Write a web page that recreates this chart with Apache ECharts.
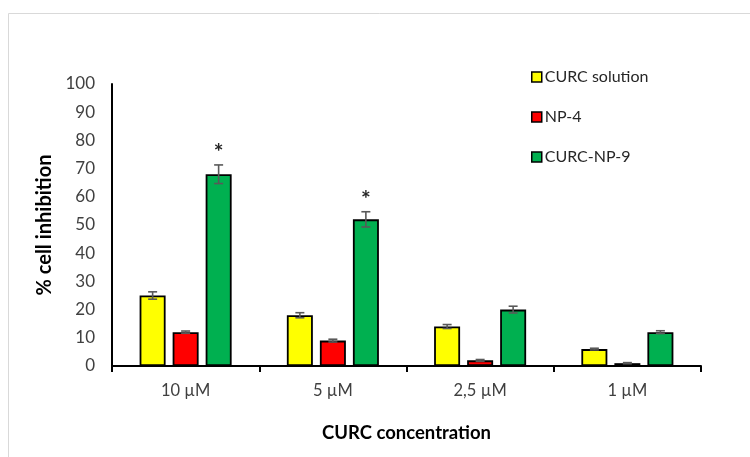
<!DOCTYPE html>
<html>
<head>
<meta charset="utf-8">
<script src="https://cdn.jsdelivr.net/npm/echarts@6/dist/echarts.min.js"></script>
<style>
  html, body { margin: 0; padding: 0; background: #fff; }
  #chart { width: 750px; height: 457px; }
</style>
</head>
<body>
<div id="chart"></div>
<script>
// Concentrations on the x axis
const categories = ['10 \u00B5M', '5 \u00B5M', '2,5 \u00B5M', '1 \u00B5M'];
const seriesNames = ['CURC solution', 'NP-4', 'CURC-NP-9'];
const seriesColors = ['#FFFF00', '#FF0000', '#00B050'];

// Mean % cell inhibition per concentration
const curcSolution = [25, 18, 14, 6];
const np4 = [12, 9, 2, 1];
const curcNp9 = [68, 52, 20, 12];

// Standard deviations
const curcSolutionErr = [1.3, 0.9, 0.7, 0.3];
const np4Err = [0.4, 0.5, 0.3, 0.2];
const curcNp9Err = [3.3, 2.7, 1.2, 0.5];

// Significance marks on CURC-NP-9
const significance = ['*', '*', '', ''];

const yTicks = { min: 0, max: 100, interval: 10 };

const means = [curcSolution, np4, curcNp9];
const errs = [curcSolutionErr, np4Err, curcNp9Err];

const BAR_W = 26;
const BAR_STEP = 33;
const FONT = 'Lato, "Open Sans", sans-serif';

const errData = [];
means.forEach((arr, s) => arr.forEach((v, i) => {
  errData.push([i, s, v - errs[s][i], v + errs[s][i]]);
}));

const starData = [];
significance.forEach((t, i) => {
  if (t) starData.push([i, curcNp9[i] + curcNp9Err[i], t]);
});

const chart = echarts.init(document.getElementById('chart'), null, { renderer: 'canvas' });

const barSeries = seriesNames.map((name, s) => ({
  name: name,
  type: 'bar',
  data: means[s],
  barWidth: BAR_W,
  barGap: '27%',
  itemStyle: { color: seriesColors[s], borderColor: '#000', borderWidth: 1.8 },
  emphasis: { disabled: true },
  z: 2
}));

chart.setOption({
  animation: false,
  backgroundColor: '#fff',
  graphic: [{
    type: 'rect',
    shape: { x: 8.5, y: 13.5, width: 800, height: 500 },
    style: { fill: 'none', stroke: '#d9d9d9', lineWidth: 1 },
    silent: true
  }],
  grid: { left: 112, right: 49, top: 84, bottom: 91, containLabel: false },
  legend: {
    orient: 'vertical',
    left: 526,
    top: 64,
    itemWidth: 10,
    itemHeight: 10,
    itemGap: 24,
    icon: 'rect',
    textStyle: { fontFamily: FONT, fontSize: 16, color: '#262626', padding: [0, 0, 0, -2] },
    data: seriesNames.map((n, s) => ({
      name: n,
      itemStyle: { color: seriesColors[s], borderColor: '#000', borderWidth: 1.5 }
    }))
  },
  xAxis: {
    type: 'category',
    data: categories,
    name: 'CURC concentration',
    nameLocation: 'middle',
    nameGap: 58,
    nameTextStyle: { fontFamily: FONT, fontSize: 18.5, fontWeight: 'bold', color: '#000' },
    axisLine: { lineStyle: { color: '#000', width: 2 } },
    axisTick: { show: true, length: 6, lineStyle: { color: '#000', width: 2 } },
    axisLabel: { fontFamily: FONT, fontSize: 16.5, color: '#404040', margin: 16 }
  },
  yAxis: {
    type: 'value',
    min: yTicks.min,
    max: yTicks.max,
    interval: yTicks.interval,
    name: '% cell inhibition',
    nameLocation: 'middle',
    nameGap: 57,
    nameRotate: 90,
    nameTextStyle: { fontFamily: FONT, fontSize: 20, fontWeight: 'bold', color: '#000' },
    axisLine: { show: true, lineStyle: { color: '#000', width: 2 } },
    axisTick: { show: false },
    splitLine: { show: false },
    axisLabel: { fontFamily: FONT, fontSize: 17, color: '#404040', margin: 17 }
  },
  series: barSeries.concat([
    {
      name: 'error',
      type: 'custom',
      z: 5,
      silent: true,
      data: errData,
      renderItem: function (params, api) {
        const cat = api.value(0);
        const s = api.value(1);
        const lo = api.coord([cat, api.value(2)]);
        const hi = api.coord([cat, api.value(3)]);
        const x = lo[0] + (s - 1) * BAR_STEP;
        const cap = 4.5;
        const st = { stroke: '#595959', lineWidth: 1.6 };
        return {
          type: 'group',
          children: [
            { type: 'line', shape: { x1: x, y1: lo[1], x2: x, y2: hi[1] }, style: st },
            { type: 'line', shape: { x1: x - cap, y1: lo[1], x2: x + cap, y2: lo[1] }, style: st },
            { type: 'line', shape: { x1: x - cap, y1: hi[1], x2: x + cap, y2: hi[1] }, style: st }
          ]
        };
      }
    },
    {
      name: 'significance',
      type: 'custom',
      z: 5,
      silent: true,
      data: starData,
      renderItem: function (params, api) {
        const p = api.coord([api.value(0), api.value(1)]);
        return {
          type: 'text',
          style: {
            x: p[0] + BAR_STEP,
            y: p[1] - 12,
            text: starData[params.dataIndex][2],
            fontFamily: FONT,
            fontSize: 23,
            fontWeight: 'bold',
            fill: '#262626',
            align: 'center',
            verticalAlign: 'middle'
          }
        };
      }
    }
  ])
});
</script>
</body>
</html>
